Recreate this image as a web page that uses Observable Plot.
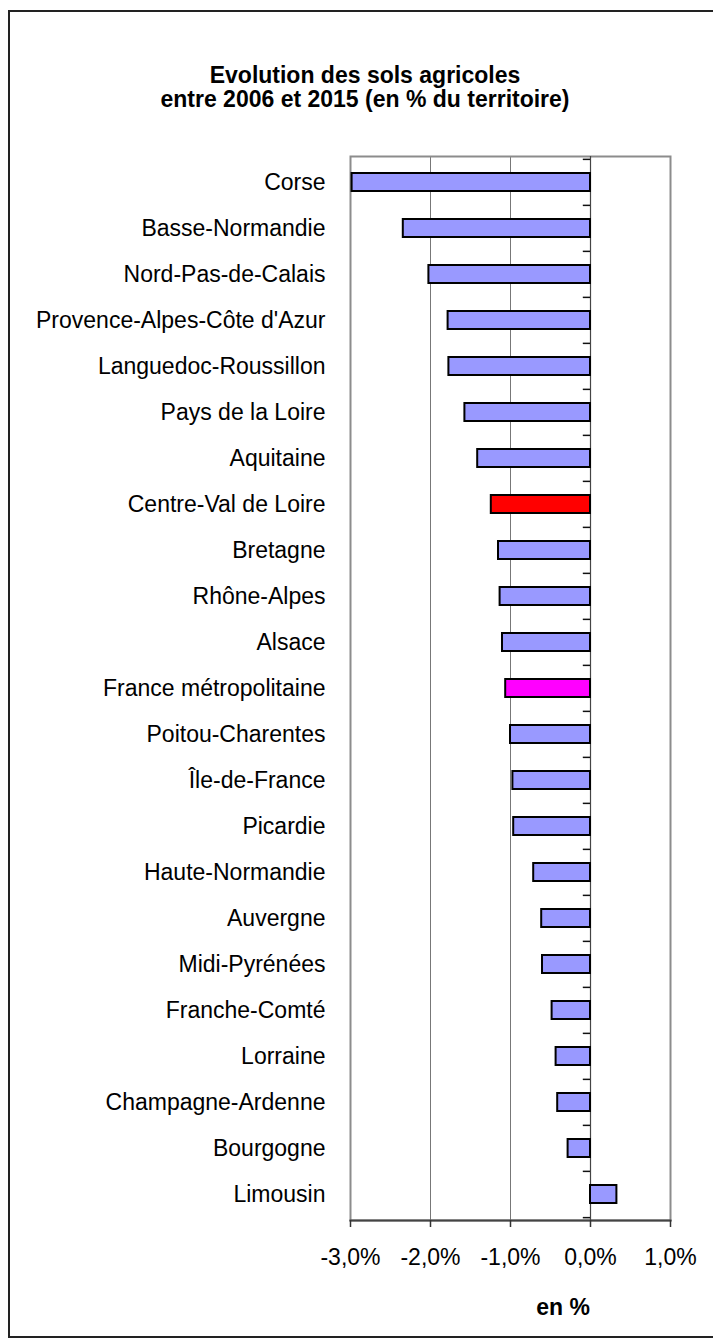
<!DOCTYPE html>
<html>
<head>
<meta charset="utf-8">
<script src="https://cdn.jsdelivr.net/npm/d3@7"></script>
<script src="https://cdn.jsdelivr.net/npm/@observablehq/plot@0.6"></script>
<style>
  html, body { margin: 0; padding: 0; background: #fff; }
  #wrap { position: relative; width: 713px; height: 1341px; overflow: hidden; font-family: "Liberation Sans", Arial, sans-serif; }
  #border { position: absolute; left: 8px; top: 10px; width: 720px; height: 1328px; border: 2px solid #222; box-sizing: border-box; }
  #title { position: absolute; left: 0; top: 63px; width: 730px; text-align: center; font-weight: bold; font-size: 23px; line-height: 24px; color: #000; }
  #xlabel { position: absolute; left: 513px; top: 1296px; width: 100px; text-align: center; font-weight: bold; font-size: 23px; line-height: 23px; color: #000; }
  #chart { position: absolute; left: 0; top: 0; }
</style>
</head>
<body>
<div id="wrap">
  <div id="border"></div>
  <div id="chart"></div>
  <div id="title">Evolution des sols agricoles<br>entre 2006 et 2015 (en % du territoire)</div>
  <div id="xlabel">en %</div>
</div>
<script>
const regions = [
  "Corse", "Basse-Normandie", "Nord-Pas-de-Calais", "Provence-Alpes-Côte d'Azur",
  "Languedoc-Roussillon", "Pays de la Loire", "Aquitaine", "Centre-Val de Loire",
  "Bretagne", "Rhône-Alpes", "Alsace", "France métropolitaine", "Poitou-Charentes",
  "Île-de-France", "Picardie", "Haute-Normandie", "Auvergne", "Midi-Pyrénées",
  "Franche-Comté", "Lorraine", "Champagne-Ardenne", "Bourgogne", "Limousin"
];
const values = [
  -2.98, -2.34, -2.02, -1.78, -1.77, -1.57, -1.41, -1.24, -1.15, -1.13, -1.10,
  -1.06, -1.00, -0.97, -0.96, -0.71, -0.61, -0.60, -0.48, -0.43, -0.41, -0.28, 0.33
];
const xTicks = [-3, -2, -1, 0, 1];
const gridValues = [-2, -1];

const data = regions.map((name, i) => ({name, value: values[i]}));

const W = 713, H = 1341, mTop = 156, mBottom = 121, mLeft = 350, mRight = 43;
const step = (H - mTop - mBottom) / regions.length;

const fillOf = d => d.name === "Centre-Val de Loire" ? "#ff0000"
  : d.name === "France métropolitaine" ? "#ff00ff" : "#9999ff";
const fmt = d => d.toFixed(1).replace(".", ",") + "%";

const plot = Plot.plot({
  width: W,
  height: H,
  marginTop: mTop,
  marginBottom: mBottom,
  marginLeft: mLeft,
  marginRight: mRight,
  style: {fontFamily: "'Liberation Sans', Arial, sans-serif", fontSize: "23px", color: "#000", background: "transparent"},
  x: {domain: [-3, 1], ticks: xTicks, tickFormat: fmt, label: null},
  y: {domain: regions, paddingInner: 0.6, paddingOuter: 0.3, label: null},
  marks: [
    Plot.ruleX(gridValues, {stroke: "#777", strokeWidth: 1}),
    Plot.frame({stroke: "#8c8c8c", strokeWidth: 2}),
    Plot.ruleX([0], {stroke: "#444", strokeWidth: 1.2}),
    Plot.ruleY(regions, {y: d => d, x1: -0.09, x2: 0, dy: -step / 2, stroke: "#111", strokeWidth: 1.5}),
    Plot.ruleY(regions.slice(-1), {y: d => d, x1: -0.09, x2: 0, dy: step / 2, stroke: "#111", strokeWidth: 1.5}),
    Plot.barX(data, {x: "value", y: "name", fill: fillOf, stroke: "#000", strokeWidth: 2}),
    Plot.frame({anchor: "bottom", stroke: "#444", strokeWidth: 2}),
    Plot.axisX({ticks: xTicks, tickSize: 7, tickPadding: 21, stroke: "#333", strokeWidth: 1.5, fontSize: 23, label: null, tickFormat: fmt}),
    Plot.axisY({tickSize: 0, tickPadding: 25, fontSize: 23, label: null})
  ]
});
document.getElementById("chart").appendChild(plot);
</script>
</body>
</html>
